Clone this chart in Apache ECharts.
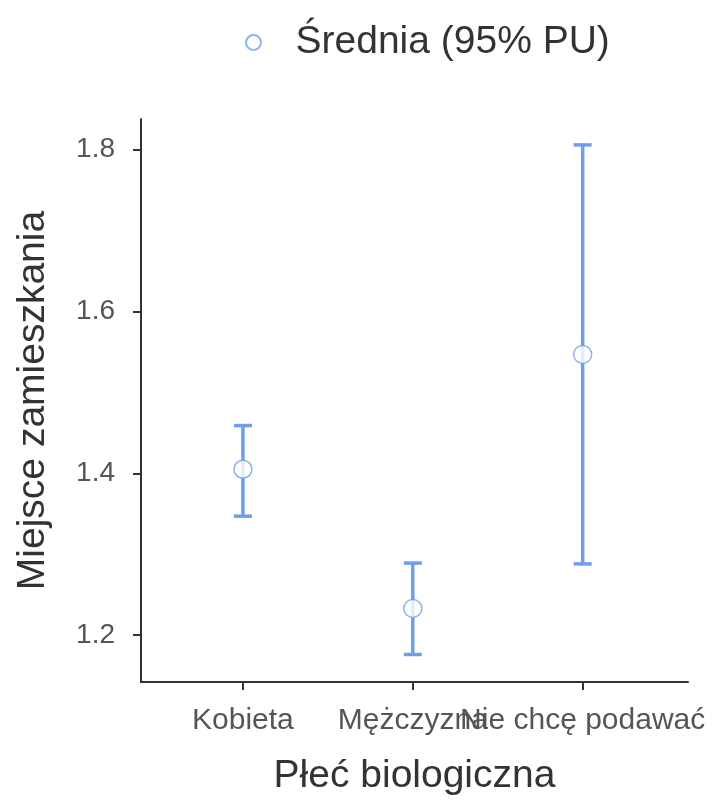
<!DOCTYPE html>
<html>
<head>
<meta charset="utf-8">
<script src="https://cdn.jsdelivr.net/npm/echarts@6/dist/echarts.min.js"></script>
<style>
  html, body { margin: 0; padding: 0; background: #fff; }
  #chart { width: 721px; height: 801px; }
</style>
</head>
<body>
<div id="chart"></div>
<script>
// dane
const categories = ['Kobieta', 'Mężczyzna', 'Nie chcę podawać'];
const catPos = [1, 2, 3];
const means = [1.405, 1.233, 1.547];
const lower = [1.347, 1.176, 1.288];
const upper = [1.459, 1.289, 1.806];
const yTicks = [1.2, 1.4, 1.6, 1.8];

const barColor = '#6f9ee8';
const font = 'Liberation Sans, Arial, sans-serif';
const xMin = 0.4;
const xMax = 3.62;

const chart = echarts.init(document.getElementById('chart'));

const labelStyle = {
    fontSize: 30,
    color: '#555',
    margin: 24,
    hideOverlap: false,
    showMinLabel: true,
    showMaxLabel: true,
    formatter: v => categories[Math.round(v) - 1] || ''
};

const option = {
    animation: false,
    textStyle: { fontFamily: font },
    legend: {
        top: 18,
        left: 240,
        itemWidth: 74,
        itemHeight: 15,
        textStyle: { fontSize: 39, color: '#333', fontFamily: font },
        data: [{ name: 'Średnia (95% PU)', icon: 'circle' }]
    },
    grid: { left: 141, right: 33, top: 119, bottom: 118 },
    xAxis: [
        {
            type: 'value',
            position: 'bottom',
            offset: 0,
            min: xMin,
            max: xMax,
            name: 'Płeć biologiczna',
            nameLocation: 'middle',
            nameGap: 75,
            nameTextStyle: { fontSize: 39, color: '#333' },
            splitLine: { show: false },
            axisLine: { lineStyle: { color: '#333', width: 2 } },
            axisTick: { show: true, length: 8, lineStyle: { color: '#333', width: 2 }, customValues: catPos },
            axisLabel: Object.assign({ customValues: [catPos[0], catPos[2]] }, labelStyle)
        },
        {
            // druga oś tylko dla środkowej etykiety (nakładające się etykiety)
            type: 'value',
            position: 'bottom',
            offset: 0,
            min: xMin,
            max: xMax,
            splitLine: { show: false },
            axisLine: { show: false },
            axisTick: { show: false },
            axisLabel: Object.assign({ customValues: [catPos[1]] }, labelStyle)
        }
    ],
    yAxis: {
        type: 'value',
        min: 1.142,
        max: 1.838,
        name: 'Miejsce zamieszkania',
        nameLocation: 'middle',
        nameGap: 88,
        nameTextStyle: { fontSize: 39, color: '#333' },
        splitLine: { show: false },
        axisLine: { show: true, lineStyle: { color: '#333', width: 2 } },
        axisTick: { show: true, length: 8, lineStyle: { color: '#333', width: 2 }, customValues: yTicks },
        axisLabel: {
            customValues: yTicks,
            fontSize: 28,
            color: '#555',
            margin: 26,
            showMinLabel: true,
            showMaxLabel: true,
            formatter: v => v.toFixed(1)
        }
    },
    series: [
        {
            type: 'custom',
            name: 'errors',
            silent: true,
            xAxisIndex: 0,
            data: catPos.map((x, i) => [x, lower[i], upper[i]]),
            renderItem: (params, api) => {
                const x = api.value(0);
                const lo = api.coord([x, api.value(1)]);
                const hi = api.coord([x, api.value(2)]);
                const half = 9;
                const style = { stroke: barColor, lineWidth: 3.5 };
                return {
                    type: 'group',
                    children: [
                        { type: 'line', shape: { x1: lo[0], y1: lo[1], x2: hi[0], y2: hi[1] }, style },
                        { type: 'line', shape: { x1: hi[0] - half, y1: hi[1], x2: hi[0] + half, y2: hi[1] }, style },
                        { type: 'line', shape: { x1: lo[0] - half, y1: lo[1], x2: lo[0] + half, y2: lo[1] }, style }
                    ]
                };
            },
            z: 2
        },
        {
            type: 'scatter',
            name: 'Średnia (95% PU)',
            xAxisIndex: 0,
            symbol: 'circle',
            symbolSize: 18,
            itemStyle: { color: '#fff', borderColor: barColor, borderWidth: 1.5 },
            data: catPos.map((x, i) => [x, means[i]]),
            z: 3
        }
    ]
};

chart.setOption(option);
</script>
</body>
</html>
